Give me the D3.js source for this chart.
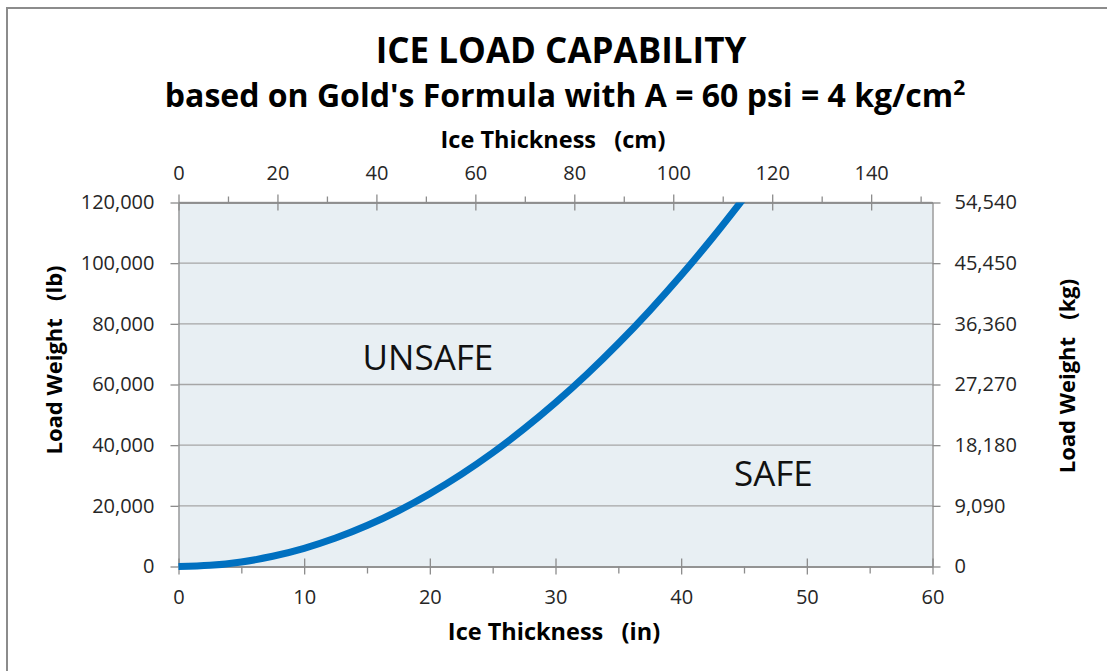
<!DOCTYPE html>
<html>
<head>
<meta charset="utf-8">
<script src="https://cdn.jsdelivr.net/npm/d3@7"></script>
<style>
  body { margin: 0; background: #fff; }
  text { font-family: "Open Sans", sans-serif; }
</style>
</head>
<body>
<div id="chart"></div>
<script>
// ice thickness (in) vs load (lb)
var thicknessIn = [0, 2.5, 5, 7.5, 10, 12.5, 15, 17.5, 20, 22.5, 25, 27.5, 30, 32.5, 35, 37.5, 40, 42.5, 45];
var loadLb = [0, 375, 1500, 3375, 6000, 9375, 13500, 18375, 24000, 30375, 37500, 45375, 54000, 63375, 73500, 84375, 96000, 108375, 121500];

var inTicks = [0, 10, 20, 30, 40, 50, 60];
var inMinor = [5, 15, 25, 35, 45, 55];
var cmTicks = [0, 20, 40, 60, 80, 100, 120, 140];
var cmMinor = [10, 30, 50, 70, 90, 110, 130, 150];
var lbTicks = [0, 20000, 40000, 60000, 80000, 100000, 120000];
var kgTicks = [0, 9090, 18180, 27270, 36360, 45450, 54540];

var W = 1107, H = 671;
var margin = { top: 202.5, right: 174.5, bottom: 104.5, left: 178.5 },
    width = W - margin.left - margin.right,
    height = H - margin.top - margin.bottom;

var svg = d3.select("#chart")
    .append("svg")
    .attr("width", W)
    .attr("height", H);

// outer chart border
svg.append("rect")
    .attr("x", 7).attr("y", 8)
    .attr("width", W + 10).attr("height", H + 10)
    .attr("fill", "#fff")
    .attr("stroke", "#8c8c8c")
    .attr("stroke-width", 2);

var g = svg.append("g")
    .attr("transform", "translate(" + margin.left + "," + margin.top + ")");

var x = d3.scaleLinear().domain([0, 60]).range([0, width]);
var xCm = d3.scaleLinear().domain([0, 60 * 2.54]).range([0, width]);
var y = d3.scaleLinear().domain([0, 120000]).range([height, 0]);
var yKg = d3.scaleLinear().domain([0, 54540]).range([height, 0]);

g.append("rect")
    .attr("width", width)
    .attr("height", height)
    .attr("fill", "#e8eff3");

// gridlines
g.selectAll(".grid")
    .data(lbTicks.slice(1))
    .enter()
    .append("line")
    .attr("x1", 0).attr("x2", width)
    .attr("y1", function (d) { return y(d); })
    .attr("y2", function (d) { return y(d); })
    .attr("stroke", "#a6a6a6")
    .attr("stroke-width", 1.3);

function styleAxis(sel) {
    sel.select(".domain").attr("stroke", "#8c8c8c").attr("stroke-width", 1.3);
    sel.selectAll(".tick line").attr("stroke", "#8c8c8c").attr("stroke-width", 1.3);
    sel.selectAll(".tick text")
        .attr("fill", "#262626")
        .style("font-size", "20px");
}

// bottom axis (in)
var bottomMinor = g.append("g")
    .attr("transform", "translate(0," + height + ")")
    .call(d3.axisBottom(x).tickValues(inMinor).tickSize(7).tickSizeOuter(0).tickFormat(""));
styleAxis(bottomMinor);
var bottomMajor = g.append("g")
    .attr("transform", "translate(0," + height + ")")
    .call(d3.axisBottom(x).tickValues(inTicks).tickSizeInner(7).tickSizeOuter(0).tickPadding(16));
styleAxis(bottomMajor);
bottomMajor.selectAll(".tick line").attr("y1", -8).attr("y2", 8);

// top axis (cm)
var topMinor = g.append("g")
    .call(d3.axisTop(xCm).tickValues(cmMinor).tickSize(6).tickSizeOuter(0).tickFormat(""));
styleAxis(topMinor);
var topMajor = g.append("g")
    .call(d3.axisTop(xCm).tickValues(cmTicks).tickSizeInner(7).tickSizeOuter(0).tickPadding(16));
styleAxis(topMajor);
topMajor.selectAll(".tick line").attr("y1", -8).attr("y2", 8);

// left axis (lb)
var leftAxis = g.append("g")
    .call(d3.axisLeft(y).tickValues(lbTicks).tickSize(8).tickSizeOuter(0)
        .tickPadding(16).tickFormat(d3.format(",")));
styleAxis(leftAxis);

// right axis (kg)
var rightAxis = g.append("g")
    .attr("transform", "translate(" + width + ",0)")
    .call(d3.axisRight(yKg).tickValues(kgTicks).tickSize(8).tickSizeOuter(0)
        .tickPadding(14).tickFormat(d3.format(",")));
styleAxis(rightAxis);

// curve
g.append("clipPath").attr("id", "clip")
    .append("rect")
    .attr("x", -5).attr("y", 0)
    .attr("width", width + 5).attr("height", height + 10);

var line = d3.line()
    .x(function (d, i) { return x(thicknessIn[i]); })
    .y(function (d) { return y(d); })
    .curve(d3.curveMonotoneX);

g.append("path")
    .datum(loadLb)
    .attr("clip-path", "url(#clip)")
    .attr("d", line)
    .attr("fill", "none")
    .attr("stroke", "#0070c0")
    .attr("stroke-width", 7);

// region labels
g.append("text")
    .attr("x", x(14.65)).attr("y", y(64800))
    .style("font-size", "35px")
    .attr("fill", "#111")
    .text("UNSAFE");
g.append("text")
    .attr("x", x(44.2)).attr("y", y(26500))
    .style("font-size", "35px")
    .attr("fill", "#111")
    .text("SAFE");

// titles
svg.append("text")
    .attr("x", 561).attr("y", 63)
    .attr("text-anchor", "middle")
    .style("font-size", "35px")
    .style("font-weight", "bold")
    .text("ICE LOAD CAPABILITY");

var sub = svg.append("text")
    .attr("x", 565).attr("y", 107)
    .attr("text-anchor", "middle")
    .style("font-size", "32px")
    .style("font-weight", "bold")
    .text("based on Gold's Formula with A = 60 psi = 4 kg/cm");
sub.append("tspan").text("2")
    .attr("dy", -12)
    .style("font-size", "21px");

svg.append("text")
    .attr("x", 553).attr("y", 148)
    .attr("text-anchor", "middle")
    .style("font-size", "23.5px")
    .style("font-weight", "bold")
    .attr("xml:space", "preserve")
    .text("Ice Thickness   (cm)");

svg.append("text")
    .attr("x", 554).attr("y", 640)
    .attr("text-anchor", "middle")
    .style("font-size", "23.5px")
    .style("font-weight", "bold")
    .attr("xml:space", "preserve")
    .text("Ice Thickness   (in)");

svg.append("text")
    .attr("transform", "translate(62,360) rotate(-90)")
    .attr("text-anchor", "middle")
    .style("font-size", "22px")
    .style("font-weight", "bold")
    .attr("xml:space", "preserve")
    .text("Load Weight   (lb)");

svg.append("text")
    .attr("transform", "translate(1075,376) rotate(-90)")
    .attr("text-anchor", "middle")
    .style("font-size", "22px")
    .style("font-weight", "bold")
    .attr("xml:space", "preserve")
    .text("Load Weight   (kg)");
</script>
</body>
</html>
